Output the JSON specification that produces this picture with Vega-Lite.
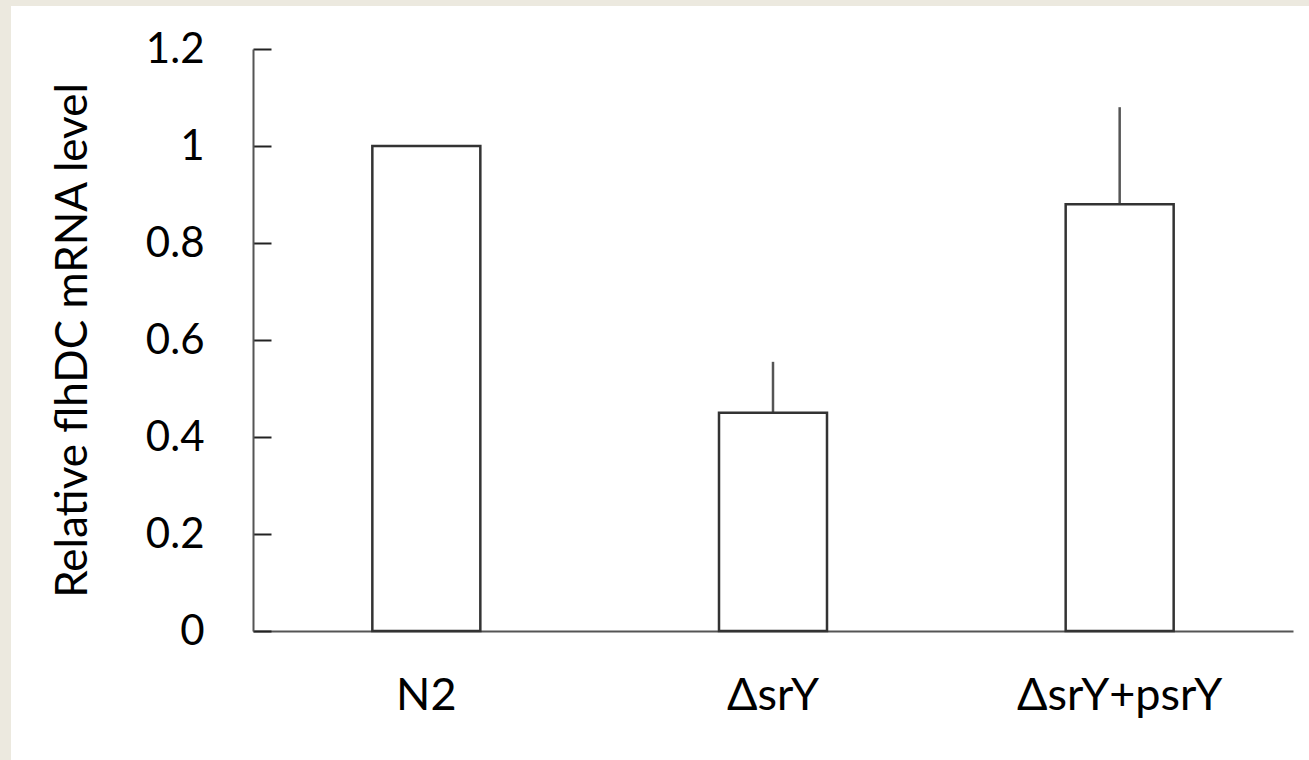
{
  "$schema": "https://vega.github.io/schema/vega-lite/v6.json",
  "background": "white",
  "padding": 0,
  "spacing": 0,
  "bounds": "flush",
  "config": {
    "view": {"stroke": null},
    "font": "Lato"
  },
  "vconcat": [
    {
      "width": 1309,
      "height": 6,
      "data": {"values": []},
      "mark": "rect",
      "encoding": {},
      "view": {"fill": "#ECE9DF", "stroke": null}
    },
    {
      "spacing": 242,
      "bounds": "flush",
      "hconcat": [
        {
          "width": 11,
          "height": 754,
          "data": {"values": []},
          "mark": "rect",
          "encoding": {},
          "view": {"fill": "#ECE9DF", "stroke": null}
        },
        {
          "spacing": 42,
          "bounds": "flush",
          "vconcat": [
            {
              "width": 1,
              "height": 1,
              "data": {"values": []},
              "mark": "rect",
              "encoding": {}
            },
            {
              "width": 1040,
              "height": 582,
              "data": {
                "values": [
                  {"strain": "N2", "level": 1.0, "err": 0},
                  {"strain": "ΔsrY", "level": 0.45, "err": 0.105},
                  {"strain": "ΔsrY+psrY", "level": 0.88, "err": 0.2}
                ]
              },
              "encoding": {
                "x": {
                  "field": "strain",
                  "type": "nominal",
                  "sort": null,
                  "scale": {"paddingInner": 0, "paddingOuter": 0},
                  "axis": {
                    "title": null,
                    "labelAngle": 0,
                    "ticks": false,
                    "domainColor": "#555",
                    "domainWidth": 2,
                    "labelFont": "Lato",
                    "labelFontSize": 45,
                    "labelColor": "#000",
                    "labelLimit": 0,
                    "labelPadding": 42
                  }
                }
              },
              "layer": [
                {
                  "mark": {"type": "errorbar", "thickness": 2.5, "color": "#555"},
                  "encoding": {
                    "y": {
                      "field": "level",
                      "type": "quantitative",
                      "scale": {"domain": [0, 1.2], "nice": false, "zero": true},
                      "axis": {
                        "title": "Relative flhDC mRNA level",
                        "values": [0, 0.2, 0.4, 0.6, 0.8, 1, 1.2],
                        "format": "~g",
                        "grid": false,
                        "domainColor": "#555",
                        "domainWidth": 2,
                        "tickColor": "#222",
                        "tickWidth": 2,
                        "tickSize": -18,
                        "labelFont": "Lato",
                        "labelFontSize": 42,
                        "labelColor": "#000",
                        "labelPadding": 67,
                        "titleFont": "Lato",
                        "titleFontSize": 44,
                        "titleFontWeight": "normal",
                        "titleColor": "#000",
                        "titlePadding": 50
                      }
                    },
                    "yError": {"field": "err"}
                  }
                },
                {
                  "mark": {
                    "type": "bar",
                    "size": 108,
                    "fill": "white",
                    "stroke": "#333",
                    "strokeWidth": 2.5
                  },
                  "encoding": {
                    "y": {
                      "field": "level",
                      "type": "quantitative",
                      "title": "Relative flhDC mRNA level"
                    }
                  }
                }
              ]
            }
          ]
        }
      ]
    }
  ]
}
